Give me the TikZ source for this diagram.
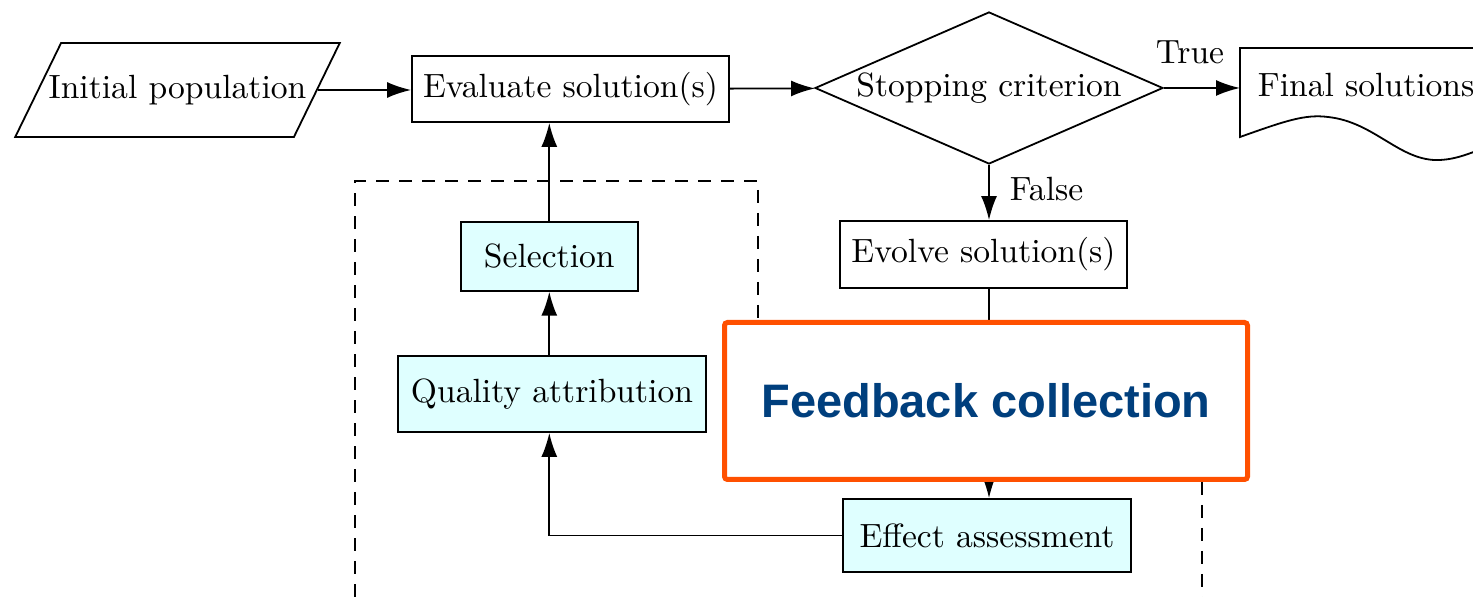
\documentclass[tikz,border=0pt]{standalone}
\usepackage{fontspec}
\setmainfont{lmroman10-regular.otf}
\newfontfamily\labelfont{Liberation Sans}
\usetikzlibrary{shapes.geometric,arrows.meta}
\definecolor{boxcyan}{HTML}{DFFFFF}
\definecolor{fborange}{HTML}{FF5000}
\definecolor{fbblue}{HTML}{003F7D}
\begin{document}
\begin{tikzpicture}[x=0.5pt,y=-0.5pt,line width=0.9pt,
  every path/.style={>={Latex[length=12pt,width=8pt]}},
  every node/.style={font=\fontsize{16.8}{20}\selectfont},
  proc/.style={draw,rectangle,inner sep=0pt},
  fbbox/.style={proc,fill=boxcyan}]
\clip (0,0) rectangle (1473,597);
% feedback loop region
\draw[dash pattern=on 6.5pt off 5pt] (355,620) -- (355,181) -- (758,181) -- (758,460) -- (1202,460) -- (1202,620);
\node[draw,trapezium,trapezium left angle=64,trapezium right angle=116,
      inner xsep=-6.2pt,inner ysep=16pt] (init) at (177.5,90) {Initial population};
\node[proc,minimum width=158.5pt,minimum height=33pt]   (eval)    at (570.5,89)  {Evaluate solution(s)};
\node[draw,diamond,aspect=2.29,inner sep=0pt,minimum width=174pt,minimum height=76pt] (stop) at (989,88) {Stopping criterion};
\node[anchor=west,inner xsep=8.5pt]                     (final)   at (1240,85)   {Final solutions};
\node[proc,minimum width=143.5pt,minimum height=33.5pt] (evolve)  at (983.5,254.5) {Evolve solution(s)};
\node[fbbox,minimum width=88.5pt,minimum height=34.5pt] (select)  at (549.3,256.3) {Selection};
\node[fbbox,minimum width=154pt,minimum height=38pt]    (quality) at (552,394)   {Quality attribution};
\node[fbbox,minimum width=144pt,minimum height=36.5pt]  (effect)  at (987,535.5) {Effect assessment};
\node (truelbl)  at (1190,52)  {True};
\node (falselbl) at (1046.5,189) {False};
% document shape
\draw (1520,48) -- (1240,48) -- (1240,137) .. controls (1285,121) and (1305,114) .. (1328,117)
      .. controls (1375,122) and (1400,162) .. (1440,160) .. controls (1458,159) and (1470,153) .. (1490,146);
\draw[->] (init.east) -- (init.east -| eval.west);
\draw[->] (eval) -- (stop);
\draw[->] (stop.east) -- (stop.east -| final.west);
\draw[->] (stop.south) -- (stop.south |- evolve.north);
\draw[->] (evolve.south -| stop.south) -- (stop.south |- effect.north);
\draw[->] (effect.west) -| (quality.south -| select.south);
\draw[->] (quality.north -| select.south) -- (select.south);
\draw[->] (select.north) -- (select.north |- eval.south);
% overlay
\node[draw=fborange,line width=2.5pt,rounded corners=1.5pt,fill=white,
      minimum width=261.5pt,minimum height=78.5pt,text=fbblue,
      font=\labelfont\bfseries\fontsize{23.5}{28}\selectfont] (feedback) at (986,401) {Feedback collection};
\end{tikzpicture}
\end{document}
